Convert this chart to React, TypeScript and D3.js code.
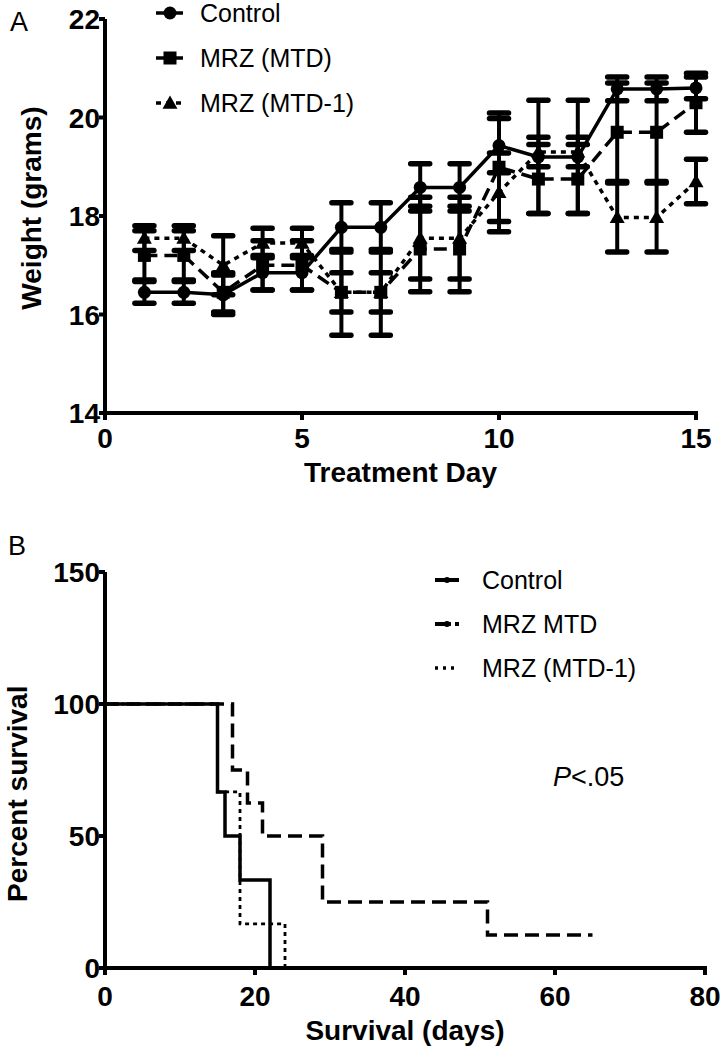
import React from "react";
import * as d3 from "d3";

// panel A: body weight by treatment day
const days = [1, 2, 3, 4, 5, 6, 7, 8, 9, 10, 11, 12, 13, 14, 15];
const controlMean = [16.45, 16.45, 16.4, 16.85, 16.85, 17.77, 17.77, 18.58, 18.58, 19.43, 19.2, 19.2, 20.58, 20.58, 20.6];
const controlErr = [0.22, 0.22, 0.4, 0.35, 0.35, 0.5, 0.5, 0.48, 0.48, 0.55, 1.15, 1.15, 0.24, 0.24, 0.22];
const mtdMean = [17.2, 17.2, 16.45, 17.0, 17.0, 16.45, 16.45, 17.33, 17.33, 18.99, 18.75, 18.75, 19.7, 19.7, 20.3];
const mtdErr = [0.5, 0.5, 0.4, 0.5, 0.5, 0.87, 0.87, 0.87, 0.87, 1.1, 0.7, 0.7, 1.0, 1.0, 0.6];
const mtd1Mean = [17.55, 17.55, 17.0, 17.45, 17.45, 16.45, 16.45, 17.55, 17.55, 18.48, 19.3, 19.3, 17.97, 17.97, 18.7];
const mtd1Err = [0.25, 0.25, 0.6, 0.3, 0.3, 0.4, 0.4, 0.83, 0.83, 0.8, 0.3, 0.3, 0.7, 0.7, 0.45];
const weightTicks = [14, 16, 18, 20, 22];
const dayTicks = [0, 5, 10, 15];

// panel B: Kaplan-Meier survival
const ctrlTimes = [0, 15, 16, 18, 22];
const ctrlSurv = [100, 66.7, 50, 33.3, 0];
const mtdTimes = [0, 17, 19, 21, 29, 51, 65];
const mtdSurv = [100, 75, 62.5, 50, 25, 12.5, 12.5];
const mtd1Times = [0, 15, 18, 24];
const mtd1Surv = [100, 66.7, 16.7, 0];
const survTicks = [0, 50, 100, 150];
const survDayTicks = [0, 20, 40, 60, 80];

const legendA = ["Control", "MRZ (MTD)", "MRZ (MTD-1)"];
const legendB = ["Control", "MRZ MTD", "MRZ (MTD-1)"];

const FONT = "'Liberation Sans', Arial, sans-serif";

function Marker({ kind, x, y }: { kind: string; x: number; y: number }) {
  if (kind === "circle") return <circle cx={x} cy={y} r={6.5} fill="#000" />;
  if (kind === "square") return <rect x={x - 6.5} y={y - 6.5} width={13} height={13} fill="#000" />;
  const s = 7.5;
  return <path d={`M${x},${y - s}L${x + s},${y + s * 0.75}L${x - s},${y + s * 0.75}Z`} fill="#000" />;
}

export default function App() {
  const W = 720, H = 1058;

  // ---- panel A scales
  const xA = d3.scaleLinear().domain([0, 15]).range([105, 696]);
  const yA = d3.scaleLinear().domain([14, 22]).range([413, 19]);

  const seriesA = [
    { name: "MRZ (MTD-1)", mean: mtd1Mean, err: mtd1Err, marker: "triangle", dash: "5,5", width: 3.5 },
    { name: "MRZ (MTD)", mean: mtdMean, err: mtdErr, marker: "square", dash: "13,7", width: 3.5 },
    { name: "Control", mean: controlMean, err: controlErr, marker: "circle", dash: "", width: 3.5 },
  ];

  const lineA = d3.line<number>()
    .x((_, i) => xA(days[i]))
    .y(d => yA(d));

  // ---- panel B scales
  const xB = d3.scaleLinear().domain([0, 80]).range([105, 705]);
  const yB = d3.scaleLinear().domain([0, 150]).range([968, 572]);

  const seriesB = [
    { name: "MRZ (MTD-1)", t: mtd1Times, s: mtd1Surv, dash: "4,4", width: 2.8 },
    { name: "MRZ MTD", t: mtdTimes, s: mtdSurv, dash: "14,7", width: 3.5 },
    { name: "Control", t: ctrlTimes, s: ctrlSurv, dash: "", width: 3.5 },
  ];

  const lineB = d3.line<[number, number]>()
    .x(d => xB(d[0]))
    .y(d => yB(d[1]))
    .curve(d3.curveStepAfter);

  const capW = 9.5;

  return (
    <svg width={W} height={H} style={{ position: "absolute", left: 0, top: 0, background: "#fff" }} fontFamily={FONT}>
      {/* ===== Panel A ===== */}
      <text x={10} y={31} fontSize={27}>A</text>

      {/* error bars */}
      {seriesA.map(s => (
        <g key={"eb" + s.name} stroke="#000" strokeWidth={4}>
          {days.map((d, i) => {
            const x = xA(d);
            const lo = yA(s.mean[i] - s.err[i]);
            const hi = yA(s.mean[i] + s.err[i]);
            return (
              <g key={i}>
                <line x1={x} x2={x} y1={lo} y2={hi} />
                <line x1={x - capW} x2={x + capW} y1={lo} y2={lo} strokeWidth={5.5} strokeLinecap="round" />
                <line x1={x - capW} x2={x + capW} y1={hi} y2={hi} strokeWidth={5.5} strokeLinecap="round" />
              </g>
            );
          })}
        </g>
      ))}

      {/* lines + markers */}
      {seriesA.map(s => (
        <g key={"ln" + s.name}>
          <path d={lineA(s.mean) || ""} fill="none" stroke="#000" strokeWidth={s.width} strokeDasharray={s.dash} />
          {days.map((d, i) => (
            <Marker key={i} kind={s.marker} x={xA(d)} y={yA(s.mean[i])} />
          ))}
        </g>
      ))}

      {/* axes A */}
      <g stroke="#000" strokeWidth={4}>
        <line x1={xA(0)} x2={xA(0)} y1={yA(14) + 2} y2={yA(22)} />
        <line x1={xA(0) - 2} x2={xA(15) + 2} y1={yA(14)} y2={yA(14)} />
        {weightTicks.map(t => (
          <line key={t} x1={xA(0) - 6} x2={xA(0)} y1={yA(t)} y2={yA(t)} />
        ))}
        {dayTicks.map(t => (
          <line key={t} x1={xA(t)} x2={xA(t)} y1={yA(14)} y2={yA(14) + 7} />
        ))}
      </g>
      {weightTicks.map(t => (
        <text key={t} x={xA(0) - 5} y={yA(t) + 10} fontSize={28} fontWeight="bold" textAnchor="end">{t}</text>
      ))}
      {dayTicks.map(t => (
        <text key={t} x={xA(t)} y={yA(14) + 35} fontSize={28} fontWeight="bold" textAnchor="middle">{t}</text>
      ))}
      <text x={(xA(0) + xA(15)) / 2} y={yA(14) + 69} fontSize={28} fontWeight="bold" textAnchor="middle">Treatment Day</text>
      <text transform={`translate(41,${yA(18) - 8}) rotate(-90)`} fontSize={28} fontWeight="bold" textAnchor="middle">Weight (grams)</text>

      {/* legend A */}
      {legendA.map((name, i) => {
        const s = seriesA.find(v => v.name === name)!;
        const y = 13 + i * 45;
        return (
          <g key={name}>
            <line x1={156} x2={183} y1={y} y2={y} stroke="#000" strokeWidth={3.5} strokeDasharray={s.dash} />
            <Marker kind={s.marker} x={170} y={y} />
            <text x={200} y={y + 9} fontSize={25}>{name}</text>
          </g>
        );
      })}

      {/* ===== Panel B ===== */}
      <text x={8} y={555} fontSize={27}>B</text>

      {seriesB.map(s => (
        <path
          key={s.name}
          d={lineB(s.t.map((t, i) => [t, s.s[i]] as [number, number])) || ""}
          fill="none"
          stroke="#000"
          strokeWidth={s.width}
          strokeDasharray={s.dash}
        />
      ))}

      <g stroke="#000" strokeWidth={4}>
        <line x1={xB(0)} x2={xB(0)} y1={yB(0) + 2} y2={yB(150)} />
        <line x1={xB(0) - 2} x2={xB(80) + 2} y1={yB(0)} y2={yB(0)} />
        {survTicks.map(t => (
          <line key={t} x1={xB(0) - 6} x2={xB(0)} y1={yB(t)} y2={yB(t)} />
        ))}
        {survDayTicks.map(t => (
          <line key={t} x1={xB(t)} x2={xB(t)} y1={yB(0)} y2={yB(0) + 7} />
        ))}
      </g>
      {survTicks.map(t => (
        <text key={t} x={xB(0) - 5} y={yB(t) + 10} fontSize={28} fontWeight="bold" textAnchor="end">{t}</text>
      ))}
      {survDayTicks.map(t => (
        <text key={t} x={xB(t)} y={yB(0) + 38} fontSize={28} fontWeight="bold" textAnchor="middle">{t}</text>
      ))}
      <text x={(xB(0) + xB(80)) / 2} y={yB(0) + 72} fontSize={28} fontWeight="bold" textAnchor="middle">Survival (days)</text>
      <text transform={`translate(27,${yB(66)}) rotate(-90)`} fontSize={28} fontWeight="bold" textAnchor="middle">Percent survival</text>

      {/* legend B */}
      {legendB.map((name, i) => {
        const s = seriesB.find(v => v.name === name) || seriesB[0];
        const y = 580 + i * 44;
        return (
          <g key={name}>
            <line x1={435} x2={459} y1={y} y2={y} stroke="#000" strokeWidth={s.width + 0.5} strokeDasharray={i === 2 ? "3,5" : i === 1 ? "16,4" : ""} />
            {i < 2 && <circle cx={447} cy={y} r={3} fill="#000" />}
            <text x={482} y={y + 9} fontSize={25}>{name}</text>
          </g>
        );
      })}

      <text x={553} y={786} fontSize={27}>
        <tspan fontStyle="italic">P</tspan>&lt;.05
      </text>
    </svg>
  );
}
